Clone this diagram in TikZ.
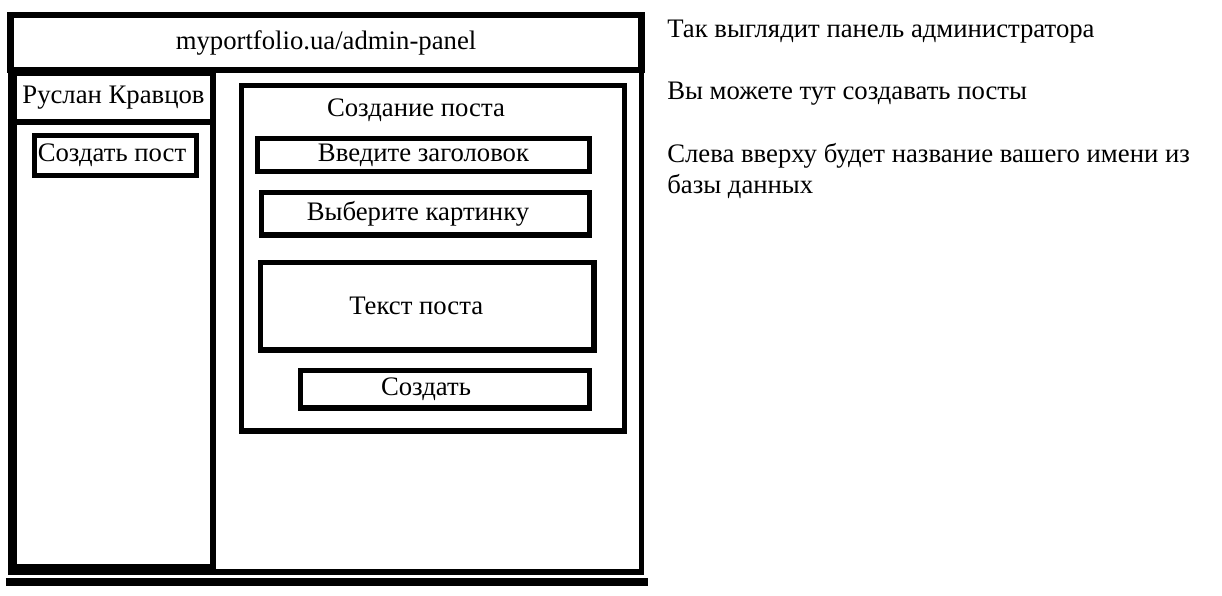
\documentclass[tikz,border=0pt]{standalone}
\usepackage{fontspec}
\setmainfont{Liberation Serif}
\usetikzlibrary{positioning}
\newcommand{\px}{0.025cm}

\begin{document}
\begin{tikzpicture}[
        x=0.025cm, y=-0.025cm,
        every node/.style={font=\fontsize{19}{21.5}\selectfont},
        wh/.style 2 args={minimum width=#1*\px, minimum height=#2*\px},
        frame/.style={rectangle, draw=black, line width=4.3pt, inner sep=0pt},
        box/.style={rectangle, draw=black, line width=3.6pt, inner sep=0pt},
        note/.style={anchor=base west, align=left, inner sep=0pt},
        shove/.style={execute at end node={\hspace*{#1\dimexpr\px\relax}}}
    ]
        \useasboundingbox (0,0) rectangle (1222,595);

        % browser window
        \node[box, wh={631}{557}] (window) at (326,293.5) {};
        \node[frame, wh={631}{55}] (urlbar) at (326,42.5) {myportfolio.ua/admin-panel};
        \draw[line width=5.7pt] ([xshift=-2*\px, yshift=-7*\px]window.south west) -- ([xshift=4*\px, yshift=-7*\px]window.south east);

        % left column
        \node[box, wh={199}{494}] (sidebar) at (113.5,320) {};
        \node[box, wh={199}{49}] (username) at (113.5,97.5) {Руслан Кравцов};
        \node[box, wh={162}{40}, shove=7] (newpost) at (115.5,155.5) {Создать пост};

        % post form
        \node[box, wh={383}{345.5}] (editor) at (433,258.25) {};
        \node (editortitle) at (416,110) {Создание поста};
        \node[box, wh={332}{33}] (titlefield) at (423.5,155) {Введите заголовок};
        \node[box, wh={328}{42.5}, shove=15] (imagefield) at (425.5,213.75) {Выберите картинку};
        \node[box, wh={333.5}{87.5}, shove=22] (bodyfield) at (427.25,306.25) {Текст поста};
        \node[box, wh={289}{37.5}, shove=38] (createbtn) at (445,389.25) {Создать};

        \node[note] (note1) at (667,37) {Так выглядит панель администратора};
        \node[note] (note2) at (667,99) {Вы можете тут создавать посты};
        \node[note] (note3) at (667,193) {Слева вверху будет название вашего имени из\\базы данных};
    \end{tikzpicture}
\end{document}
